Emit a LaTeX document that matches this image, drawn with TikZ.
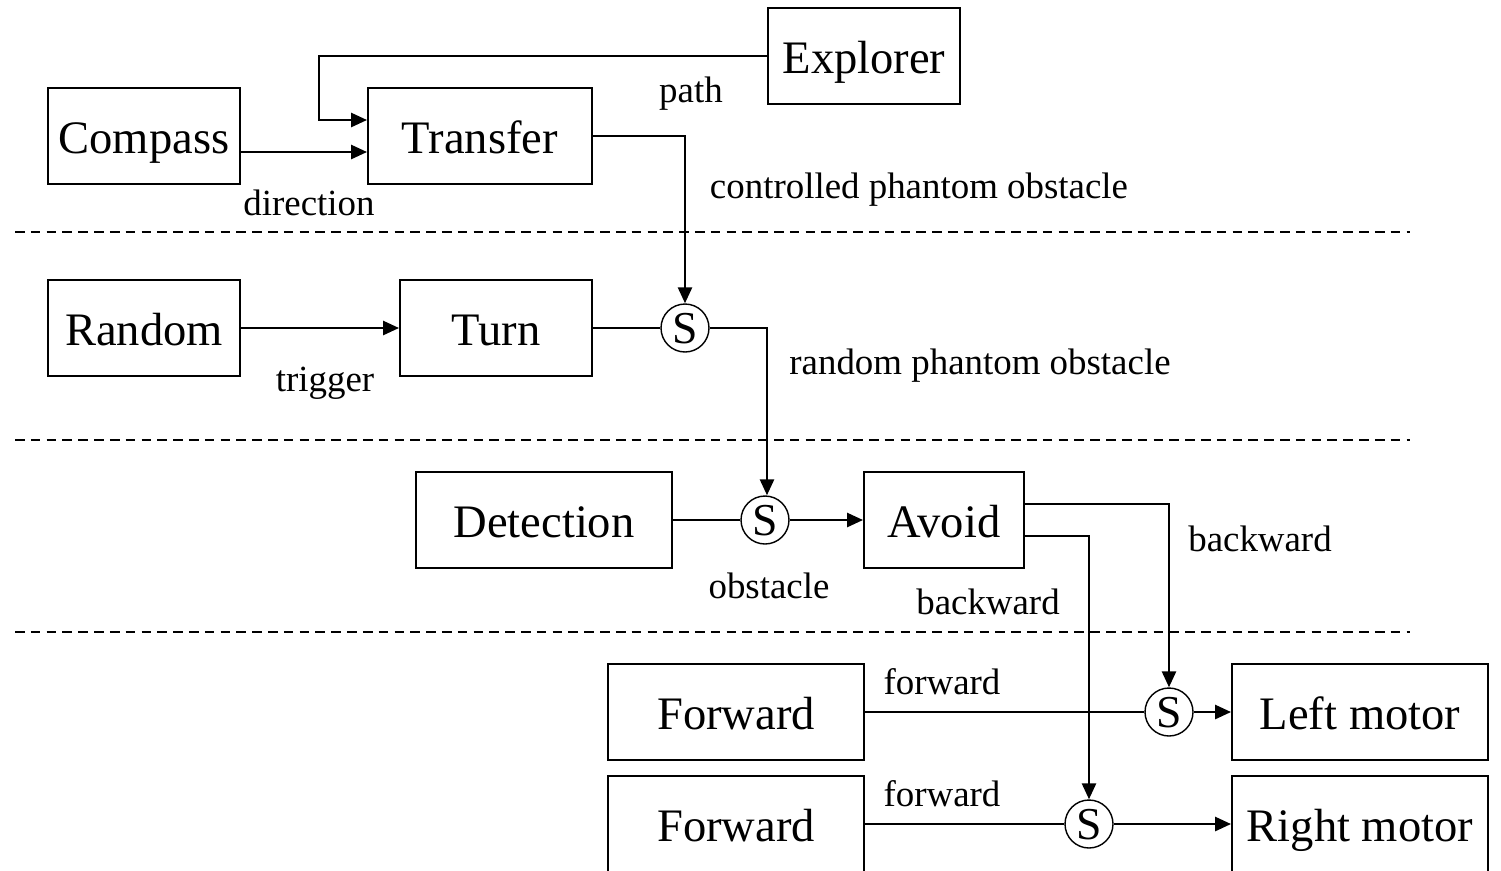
\documentclass[tikz,border=0pt]{standalone}
\usepackage{fontspec}
\setmainfont{Liberation Serif}
\usetikzlibrary{arrows.meta,positioning}
\tikzset{
  blk/.style={draw,line width=1.1pt,inner sep=0pt,minimum height=1.92cm,text height=0.68cm,text depth=0pt,font=\fontsize{26.5}{30}\selectfont},
  sw/.style={draw,circle,line width=0.8pt,inner sep=0pt,minimum size=0.96cm,text height=0.6cm,text depth=0pt,font=\fontsize{26}{28}\selectfont},
  arr/.style={-{Triangle[length=3.2mm,width=2.8mm]},line width=1.5pt},
  ln/.style={line width=1.5pt},
  lbl/.style={font=\fontsize{21}{24}\selectfont,anchor=base,inner sep=0pt},
  sep/.style={line width=0.6pt,dash pattern=on 5.5pt off 3.5pt}
}
\begin{document}
\begin{tikzpicture}[x=0.02cm,y=-0.02cm]
\useasboundingbox (0,0) rectangle (1501,870);
% layers
\draw[sep] (15,232) -- (1410,232);
\draw[sep] (15,440) -- (1410,440);
\draw[sep] (15,632) -- (1410,632);
% blocks
\node[blk,minimum width=3.84cm] (compass) at (144,136) {Compass};
\node[blk,minimum width=4.48cm] (transfer) at (480,136) {Transfer};
\node[blk,minimum width=3.84cm] (explorer) at (864,56) {Explorer};
\node[blk,minimum width=3.84cm] (random) at (144,328) {Random};
\node[blk,minimum width=3.84cm] (turn) at (496,328) {Turn};
\node[blk,minimum width=5.12cm] (detect) at (544,520) {Detection};
\node[blk,minimum width=3.2cm] (avoid) at (944,520) {Avoid};
\node[blk,minimum width=5.12cm] (fwdl) at (736,712) {Forward};
\node[blk,minimum width=5.12cm] (fwdr) at (736,824) {Forward};
\node[blk,minimum width=5.12cm] (lmotor) at (1360,712) {Left motor};
\node[blk,minimum width=5.12cm] (rmotor) at (1360,824) {Right motor};
% suppressors
\node[sw] (s1) at (685,328) {S};
\node[sw] (s2) at (765,520) {S};
\node[sw] (sl) at (1169,712) {S};
\node[sw] (sr) at (1089,824) {S};
% connectors
\draw[arr] (explorer.west) -- ++(-448,0) |- ([yshift=0.32cm]transfer.west);
\draw[arr] ([yshift=-0.32cm]compass.east) -- ([yshift=-0.32cm]transfer.west);
\draw[arr] (transfer.east) -| (s1.north);
\draw[arr] (random.east) -- (turn.west);
\draw[ln] (turn.east) -- (s1.west);
\draw[arr] (s1.east) -| ([xshift=0.04cm]s2.north);
\draw[ln] (detect.east) -- (s2.west);
\draw[arr] (s2.east) -- (avoid.west);
\draw[arr] ([yshift=0.32cm]avoid.east) -| (sl.north);
\draw[arr] ([yshift=-0.32cm]avoid.east) -| (sr.north);
\draw[ln] (fwdl.east) -- (sl.west);
\draw[arr] (sl.east) -- (lmotor.west);
\draw[ln] (fwdr.east) -- (sr.west);
\draw[arr] (sr.east) -- (rmotor.west);
% labels
\node[lbl] (lpath) at (691,102) {path};
\node[lbl] (ldir) at (309,215) {direction};
\node[lbl] (lctrl) at (919,198) {controlled phantom obstacle};
\node[lbl] (ltrig) at (325,391) {trigger};
\node[lbl] (lrand) at (980,374) {random phantom obstacle};
\node[lbl] (lobst) at (769,598) {obstacle};
\node[lbl] (lback1) at (1260,551) {backward};
\node[lbl] (lback2) at (988,614) {backward};
\node[lbl] (lfwd1) at (942,694) {forward};
\node[lbl] (lfwd2) at (942,806) {forward};
\end{tikzpicture}
\end{document}
